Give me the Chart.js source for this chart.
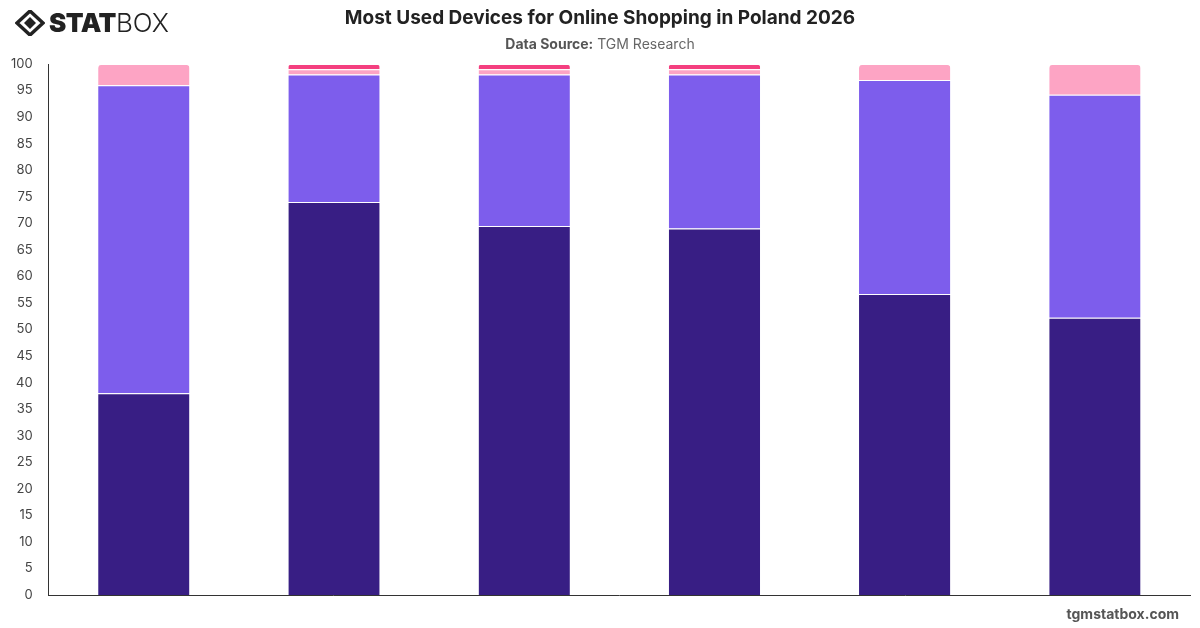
<!DOCTYPE html>
<html>
<head>
<meta charset="utf-8">
<script src="https://cdn.jsdelivr.net/npm/chart.js@4"></script>
<style>
  html, body { margin: 0; padding: 0; background: #fff; }
  body { width: 1200px; height: 628px; position: relative; overflow: hidden; font-family: Inter, "Noto Sans", sans-serif; }
  #chart { position: absolute; left: 0; top: 0; }
  .title { position: absolute; top: 6px; left: 0; width: 1200px; text-align: center; font-size: 19px; font-weight: 700; color: #222; }
  .subtitle { position: absolute; top: 35px; left: 0; width: 1200px; text-align: center; font-size: 14px; color: #666; }
  .subtitle b { color: #555; }
  .logo { position: absolute; left: 15px; top: 7px; display: flex; align-items: center; color: #222; }
  .logo .stat { font-size: 26px; font-weight: 900; letter-spacing: -0.5px; margin-left: 4px; }
  .logo .box { font-size: 26px; font-weight: 300; }
  .footer { position: absolute; right: 21px; top: 605px; font-size: 14px; font-weight: 700; color: #555; }
</style>
</head>
<body>
<canvas id="chart" width="1200" height="628"></canvas>
<div class="logo">
  <svg width="30" height="26" viewBox="0 0 30 26">
    <path d="M15 1 L28 13 L15 25 L2 13 Z" fill="none" stroke="#222" stroke-width="3.5"/>
    <path d="M15 7 L21 13 L15 19 L9 13 Z" fill="#222"/>
  </svg>
  <span class="stat">STAT</span><span class="box">BOX</span>
</div>
<div class="title">Most Used Devices for Online Shopping in Poland 2026</div>
<div class="subtitle"><b>Data Source:</b> TGM Research</div>
<div class="footer">tgmstatbox.com</div>
<script>
// Stacked share per group (percent)
const categories = ['Group 1', 'Group 2', 'Group 3', 'Group 4', 'Group 5', 'Group 6'];
const seriesNames = ['Smartphone', 'Laptop / PC', 'Tablet', 'Other'];
const smartphoneValues = [38, 74, 69.5, 69, 56.7, 52.2];
const laptopValues = [58, 24, 28.5, 29, 40.3, 42];
const tabletValues = [4, 1, 1, 1, 3, 5.8];
const otherValues = [0, 1, 1, 1, 0, 0];
const yTicks = { min: 0, max: 100, step: 5 };

const seriesColors = ['#381e84', '#7d5dec', '#fda4c4', '#f43f7f'];
const allValues = [smartphoneValues, laptopValues, tabletValues, otherValues];

// round only the top-most non-empty segment of each bar
function topRadius(ctx) {
  const i = ctx.dataIndex;
  let top = -1;
  allValues.forEach((vals, d) => { if (vals[i] > 0) top = d; });
  return ctx.datasetIndex === top ? { topLeft: 4, topRight: 4, bottomLeft: 0, bottomRight: 0 } : 0;
}

new Chart(document.getElementById('chart'), {
  type: 'bar',
  data: {
    labels: categories,
    datasets: allValues.map((vals, d) => ({
      label: seriesNames[d],
      data: vals,
      backgroundColor: seriesColors[d],
      borderColor: '#ffffff',
      borderWidth: { top: 1, left: 0, right: 0, bottom: 0 },
      borderSkipped: 'start',
      borderRadius: topRadius,
      barPercentage: 0.8,
      categoryPercentage: 0.6
    }))
  },
  options: {
    responsive: false,
    animation: false,
    layout: { padding: { top: 64, right: 10, bottom: 33, left: 3 } },
    plugins: { legend: { display: false }, tooltip: { enabled: false } },
    scales: {
      x: {
        stacked: true,
        grid: { display: false, drawTicks: false },
        border: { color: '#333', width: 1 },
        ticks: { display: false }
      },
      y: {
        stacked: true,
        min: yTicks.min,
        max: yTicks.max,
        grid: { display: false },
        border: { color: '#333', width: 1 },
        ticks: { stepSize: yTicks.step, color: '#444', font: { family: 'Inter', size: 13 }, padding: 8 }
      }
    }
  }
});
</script>
</body>
</html>
